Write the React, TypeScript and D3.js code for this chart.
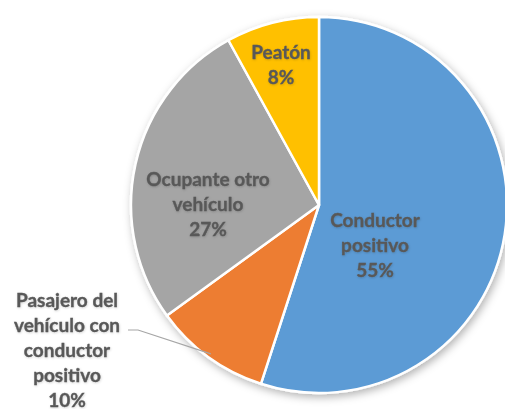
import * as d3 from "d3";

const categories = ["Conductor positivo", "Pasajero del vehículo con conductor positivo", "Ocupante otro vehículo", "Peatón"];
const values = [55, 10, 27, 8];
const colors = ["#5B9BD5", "#ED7D31", "#A5A5A5", "#FFC000"];

// label text lines, per slice
const labelLines = [
  ["Conductor", "positivo", "55%"],
  ["Pasajero del", "vehículo con", "conductor", "positivo", "10%"],
  ["Ocupante otro", "vehículo", "27%"],
  ["Peatón", "8%"],
];

// label anchor (center x, first baseline) as offsets from pie center
const labelOffsets = [
  [56, 22],
  [-252, 102],
  [-111, -19],
  [-38, -146],
];

export default function App() {
  const width = 505;
  const height = 409;
  const cx = 319;
  const cy = 205;
  const radius = 188;
  const lineH = 25;

  const pie = d3.pie<number>().sort(null).value(d => d);
  const arcs = pie(values);
  const arc = d3.arc<d3.PieArcDatum<number>>().innerRadius(0).outerRadius(radius);

  // leader line for the outside label (Pasajero)
  const pas = arcs[1];
  const mid = (pas.startAngle + pas.endAngle) / 2;
  const edge: [number, number] = [Math.sin(mid) * (radius - 4), -Math.cos(mid) * (radius - 4)];
  const lx = labelOffsets[1][0] + 61;
  const ly = labelOffsets[1][1] + 23;
  const leader = d3.line()([[lx, ly], [lx + 10, ly], edge]);

  return (
    <div style={{ position: "fixed", left: 0, top: 0 }}>
      <svg width={width} height={height} style={{ display: "block" }}>
        <defs>
          <filter id="pieShadow" x="-20%" y="-20%" width="140%" height="140%">
            <feDropShadow dx="2" dy="3" stdDeviation="4" floodColor="#000" floodOpacity="0.3" />
          </filter>
          <filter id="txtShadow" x="-20%" y="-20%" width="140%" height="140%">
            <feDropShadow dx="0.5" dy="0.8" stdDeviation="1.2" floodColor="#000" floodOpacity="0.18" />
          </filter>
        </defs>
        <rect width={width} height={height} fill="#fff" />
        <g transform={`translate(${cx},${cy})`}>
          <g filter="url(#pieShadow)">
            {arcs.map((a, i) => (
              <path key={categories[i]} d={arc(a) || ""} fill={colors[i]} stroke="#fff" strokeWidth={2.5} strokeLinejoin="round" />
            ))}
          </g>
          <path d={leader || ""} fill="none" stroke="#A6A6A6" strokeWidth={1.2} />
          <g
            filter="url(#txtShadow)"
            fontFamily="Lato, 'Open Sans', sans-serif"
            fontWeight={700}
            fontSize={19}
            fill="#595959"
            stroke="#595959"
            strokeWidth={0.35}
            textAnchor="middle"
          >
            {labelLines.map((lines, i) => (
              <text key={categories[i]} x={labelOffsets[i][0]} y={labelOffsets[i][1]}>
                {lines.map((t, j) => (
                  <tspan key={j} x={labelOffsets[i][0]} y={labelOffsets[i][1] + j * lineH}>{t}</tspan>
                ))}
              </text>
            ))}
          </g>
        </g>
      </svg>
    </div>
  );
}
